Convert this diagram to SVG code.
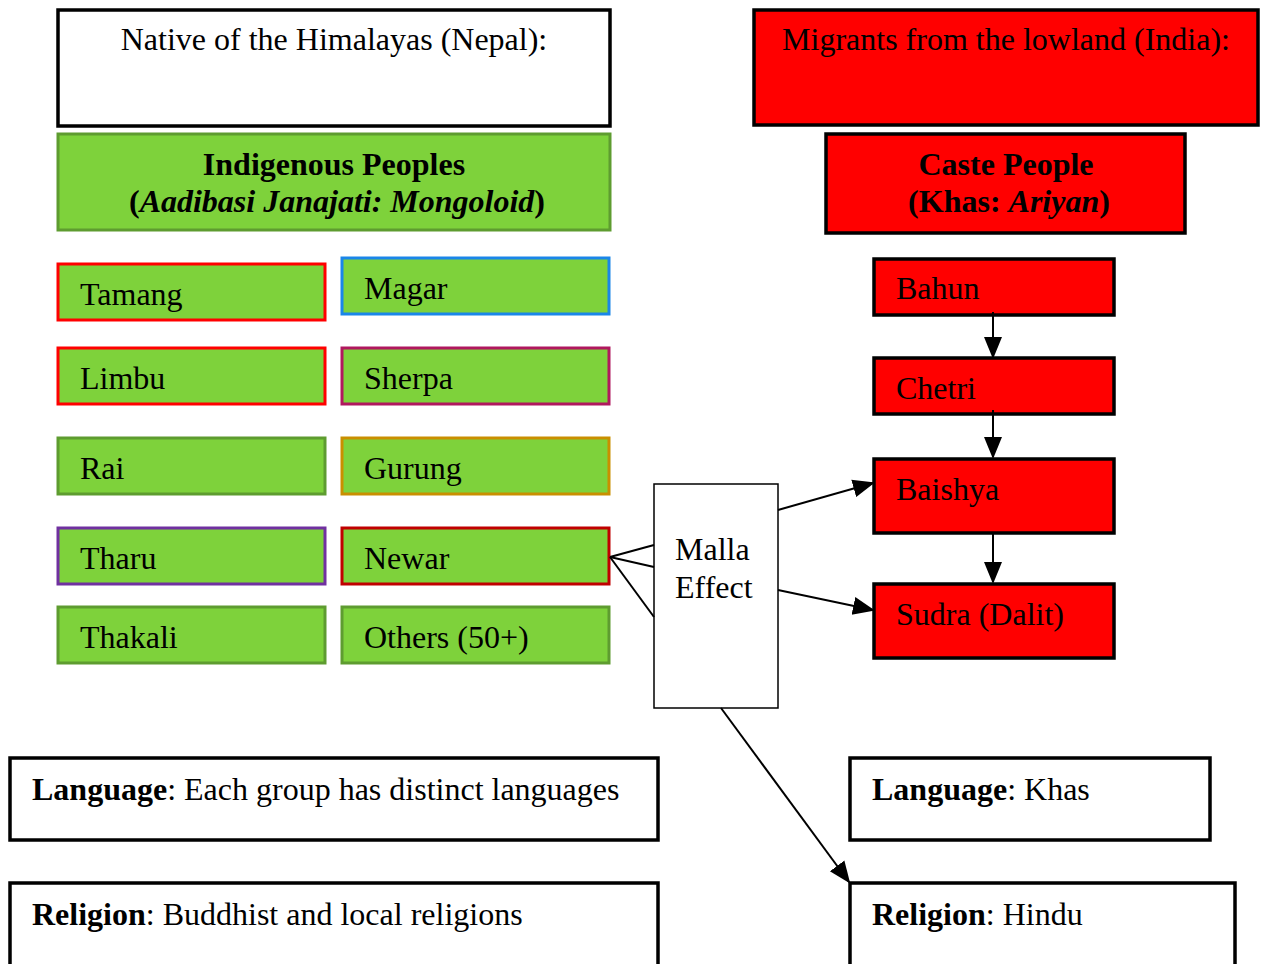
<svg xmlns="http://www.w3.org/2000/svg" width="1264" height="964" viewBox="0 0 1264 964">
<style>
text{font-family:"Liberation Serif","Times New Roman",serif;font-size:32px;fill:#000}
.b{font-weight:bold}
.i{font-style:italic}
.g{fill:#7ed23b}
.r{fill:#ff0000}
.w{fill:#ffffff}
.k{stroke:#000;stroke-width:3.5}
.gs{stroke:#5e9c30;stroke-width:3}
.c{stroke:#000;stroke-width:2;fill:none}
</style>
<defs>
<marker id="ah2" markerWidth="22" markerHeight="22" refX="20" refY="11" orient="auto" markerUnits="userSpaceOnUse" viewBox="0 0 22 22">
<path d="M0,2 L22,11 L0,20 z" fill="#000"/>
</marker>
</defs>
<g id="native"><rect x="58" y="10" width="552" height="116" class="w k"/><text x="334" y="50" text-anchor="middle">Native of the Himalayas (Nepal):</text></g>
<g id="indigenous"><rect x="58" y="134" width="552" height="96" class="g gs"/><text x="334" y="175" text-anchor="middle" class="b">Indigenous Peoples</text><text x="337" y="212" text-anchor="middle" class="b">(<tspan class="i">Aadibasi Janajati: Mongoloid</tspan>)</text></g>
<g id="migrants"><rect x="754" y="10" width="504" height="115" class="r k"/><text x="1006" y="50" text-anchor="middle">Migrants from the lowland (India):</text></g>
<g id="caste"><rect x="826" y="134" width="359" height="99" class="r k"/><text x="1006" y="175" text-anchor="middle" class="b">Caste People</text><text x="1009" y="212" text-anchor="middle" class="b">(Khas: <tspan class="i">Ariyan</tspan>)</text></g>
<g id="tamang"><rect x="58" y="264" width="267" height="56" class="g" stroke="#ff0000" stroke-width="3"/><text x="80" y="305">Tamang</text></g>
<g id="magar"><rect x="342" y="258" width="267" height="56" class="g" stroke="#1a86e8" stroke-width="3"/><text x="364" y="299">Magar</text></g>
<g id="limbu"><rect x="58" y="348" width="267" height="56" class="g" stroke="#ff0000" stroke-width="3"/><text x="80" y="389">Limbu</text></g>
<g id="sherpa"><rect x="342" y="348" width="267" height="56" class="g" stroke="#b0185e" stroke-width="3"/><text x="364" y="389">Sherpa</text></g>
<g id="rai"><rect x="58" y="438" width="267" height="56" class="g gs"/><text x="80" y="479">Rai</text></g>
<g id="gurung"><rect x="342" y="438" width="267" height="56" class="g" stroke="#c98f00" stroke-width="3"/><text x="364" y="479">Gurung</text></g>
<g id="tharu"><rect x="58" y="528" width="267" height="56" class="g" stroke="#7030a0" stroke-width="3"/><text x="80" y="569">Tharu</text></g>
<g id="newar"><rect x="342" y="528" width="267" height="56" class="g" stroke="#c00000" stroke-width="3"/><text x="364" y="569">Newar</text></g>
<g id="thakali"><rect x="58" y="607" width="267" height="56" class="g gs"/><text x="80" y="648">Thakali</text></g>
<g id="others"><rect x="342" y="607" width="267" height="56" class="g gs"/><text x="364" y="648">Others (50+)</text></g>
<g id="bahun"><rect x="874" y="259" width="240" height="56" class="r k"/><text x="896" y="299">Bahun</text></g>
<g id="chetri"><rect x="874" y="358" width="240" height="56" class="r k"/><text x="896" y="399">Chetri</text></g>
<g id="baishya"><rect x="874" y="459" width="240" height="74" class="r k"/><text x="896" y="500">Baishya</text></g>
<g id="sudra"><rect x="874" y="584" width="240" height="74" class="r k"/><text x="896" y="625">Sudra (Dalit)</text></g>
<g id="malla"><rect x="654" y="484" width="124" height="224" fill="#fff" stroke="#000" stroke-width="1.5"/><text x="675" y="560">Malla</text><text x="675" y="598">Effect</text></g>
<g id="lang-left"><rect x="10" y="758" width="648" height="82" class="w k"/><text x="32" y="800"><tspan class="b">Language</tspan>: Each group has distinct languages</text></g>
<g id="rel-left"><rect x="10" y="883" width="648" height="90" class="w k"/><text x="32" y="925"><tspan class="b">Religion</tspan>: Buddhist and local religions</text></g>
<g id="lang-right"><rect x="850" y="758" width="360" height="82" class="w k"/><text x="872" y="800"><tspan class="b">Language</tspan>: Khas</text></g>
<g id="rel-right"><rect x="850" y="883" width="385" height="90" class="w k"/><text x="872" y="925"><tspan class="b">Religion</tspan>: Hindu</text></g>
<g id="connectors">
<line x1="993" y1="312" x2="993" y2="357" class="c" marker-end="url(#ah2)"/>
<line x1="993" y1="410" x2="993" y2="457" class="c" marker-end="url(#ah2)"/>
<line x1="993" y1="533" x2="993" y2="582" class="c" marker-end="url(#ah2)"/>
<line x1="778" y1="510" x2="873" y2="483" class="c" marker-end="url(#ah2)"/>
<line x1="778" y1="590" x2="873" y2="610" class="c" marker-end="url(#ah2)"/>
<line x1="721" y1="708" x2="849" y2="882" class="c" stroke-width="1.5" marker-end="url(#ah2)"/>
<line x1="610" y1="557" x2="654" y2="545" class="c"/>
<line x1="610" y1="557" x2="654" y2="567" class="c"/>
<line x1="610" y1="557" x2="654" y2="617" class="c"/>
</g>
</svg>
